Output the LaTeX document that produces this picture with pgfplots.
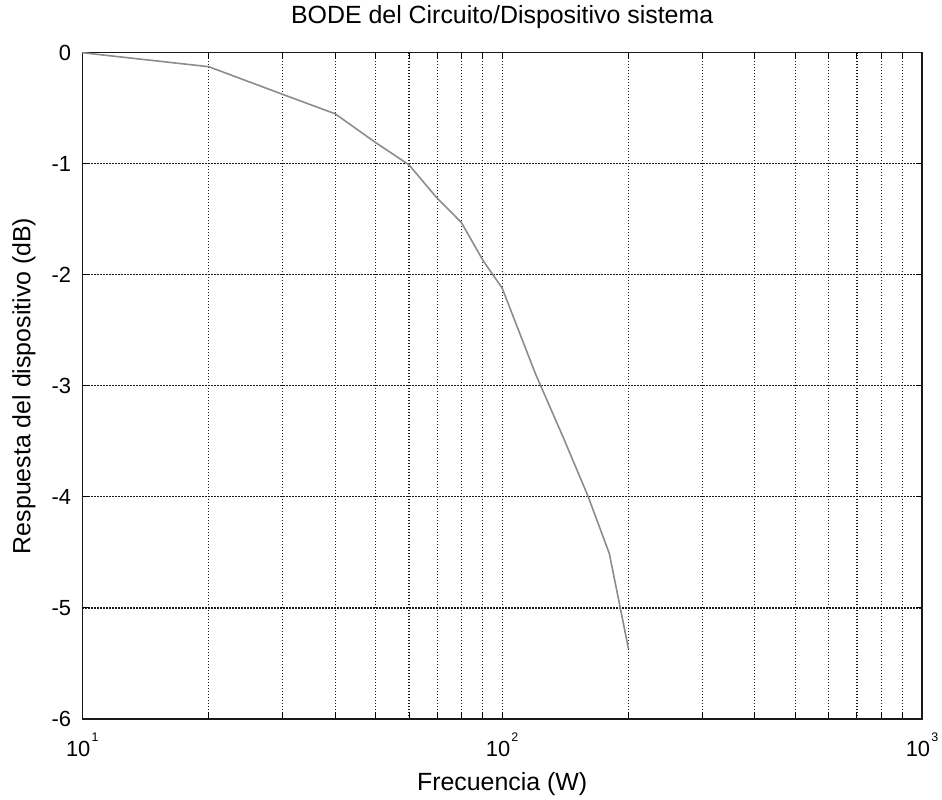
\documentclass[border=0pt]{standalone}
\usepackage{fontspec}
\setmainfont{Liberation Sans}
\usepackage{pgfplots}
\pgfplotsset{compat=1.18}
\begin{document}
\begin{tikzpicture}
\newcommand{\dec}[1]{10\kern1.2bp\raisebox{15bp}{\fontsize{12.5}{12.5}\selectfont #1}}
\begin{semilogxaxis}[
  scale only axis, width=839.7bp, height=666.3bp,
  xmin=10, xmax=1000, ymin=-6, ymax=0,
  xtick={10,100,1000},
  xticklabels={\dec{1},\dec{2},\dec{3}},
  minor xtick={20,30,40,50,60,70,80,90,200,300,400,500,600,700,800,900},
  ytick={-6,-5,-4,-3,-2,-1,0},
  yticklabels={-6,-5,-4,-3,-2,-1,0},
  grid=both,
  major grid style={black!90, line width=1.1bp, dash pattern=on 1.2bp off 1.8bp},
  minor grid style={black!90, line width=1.1bp, dash pattern=on 1.2bp off 1.8bp},
  tick align=inside, tick pos=both,
  major tick length=6.5bp, minor tick length=6.5bp,
  every tick/.style={black, line width=1bp},
  axis line style={black!90, line width=1.2bp},
  tick label style={font=\fontsize{22}{22}\selectfont},
  xticklabel style={anchor=base, inner sep=0pt, yshift=-37bp},
  yticklabel style={anchor=east, inner sep=0pt, xshift=-11bp},
  title style={font=\fontsize{25}{28}\selectfont, at={(axis description cs:0.5,1.0341)}, anchor=base, inner sep=0pt},
  xlabel style={font=\fontsize{25}{28}\selectfont, at={(axis description cs:0.5,-0.1066)}, anchor=base, inner sep=0pt},
  ylabel style={font=\fontsize{25}{28}\selectfont, at={(axis description cs:-0.0617,0.5)}, anchor=base, inner sep=0pt, rotate=0},
  title={BODE del Circuito/Dispositivo sistema},
  xlabel={Frecuencia (W)},
  ylabel={Respuesta del dispositivo (dB)},
]
\addplot[color=black!45, line width=1.6bp] coordinates {
  (10,0) (20,-0.126) (30,-0.375) (40,-0.55) (50,-0.81) (60,-1.01)
  (70,-1.31) (80,-1.53) (90,-1.87) (100,-2.12) (120,-2.89)
  (140,-3.47) (160,-3.99) (180,-4.51) (200,-5.37)
};
\coordinate (SW) at (rel axis cs:0,0);
\end{semilogxaxis}
\pgfresetboundingbox
\path[use as bounding box] ([xshift=-82.3bp,yshift=-81bp]SW) rectangle ++(942bp,800bp);
\end{tikzpicture}
\end{document}
